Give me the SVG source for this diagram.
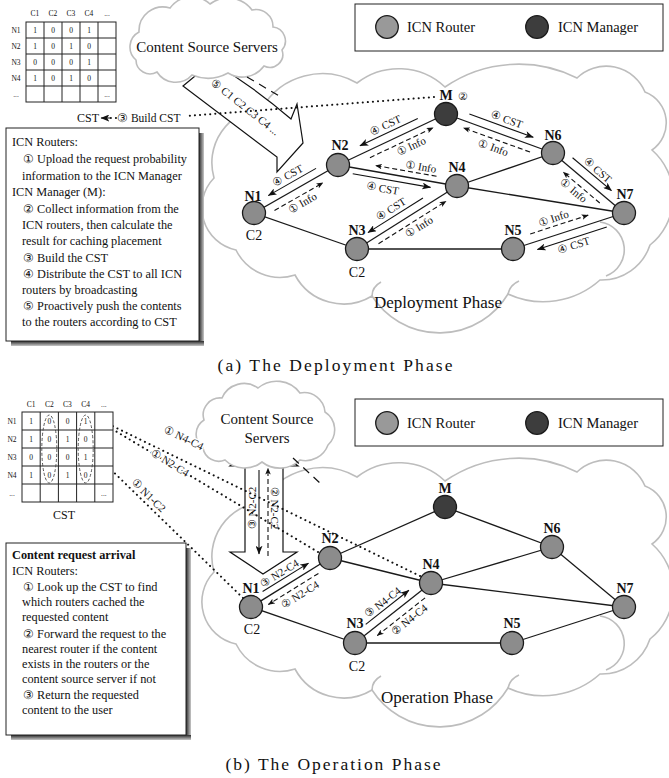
<svg xmlns="http://www.w3.org/2000/svg" width="669" height="778" viewBox="0 0 669 778" font-family="'Liberation Serif', Tinos, 'Times New Roman', 'DejaVu Serif', serif">
  <style>
    svg, text { font-family: 'Liberation Serif', Tinos, 'Times New Roman', 'DejaVu Serif', serif; }
    text { fill: #111; }
    .cloud { fill: none; stroke: #bdbdbd; stroke-width: 1.6; }
    .cloudw { fill: #fff; stroke: #bdbdbd; stroke-width: 1.6; }
    .edge { stroke: #1a1a1a; stroke-width: 1.3; fill: none; }
    .router { fill: #8c8c8c; stroke: #1a1a1a; stroke-width: 1.3; }
    .manager { fill: #3d3d3d; stroke: #1a1a1a; stroke-width: 1.3; }
    .nl { font-size: 14px; font-weight: bold; text-anchor: middle; }
    .cl { font-size: 14px; text-anchor: middle; }
    .sol { stroke: #111; stroke-width: 1.1; fill: none; marker-end: url(#ah); }
    .dsh { stroke: #111; stroke-width: 1.1; fill: none; stroke-dasharray: 5 3; marker-end: url(#ahs); }
    .al { font-size: 11px; text-anchor: middle; }
    .dot { stroke: #111; stroke-width: 2; stroke-linecap: round; stroke-dasharray: 0.1 5; fill: none; }
    .dash { stroke: #111; stroke-width: 1.2; stroke-dasharray: 8 6; fill: none; }
    .tb { fill: #fff; stroke: #222; stroke-width: 1; }
    .tt { font-size: 7.5px; text-anchor: middle; }
    .bx { font-size: 12.3px; }
    .halo { paint-order: stroke; stroke: #fff; stroke-width: 3px; stroke-linejoin: round; }
    .hollow { fill: #fff; stroke: #111; stroke-width: 1.2; stroke-linejoin: miter; }
  </style>
  <defs>
    <marker id="ah" viewBox="0 0 10 8" refX="9.5" refY="4" markerWidth="9" markerHeight="7" markerUnits="userSpaceOnUse" orient="auto">
      <path d="M0,0 L10,4 L0,8 L2.5,4 z" fill="#111"/>
    </marker>
    <marker id="ahs" viewBox="0 0 10 8" refX="9.5" refY="4" markerWidth="7" markerHeight="5.5" markerUnits="userSpaceOnUse" orient="auto">
      <path d="M0,0 L10,4 L0,8 L2.5,4 z" fill="#111"/>
    </marker>
    <marker id="ahL" viewBox="0 0 10 8" refX="9.5" refY="4" markerWidth="12" markerHeight="9" markerUnits="userSpaceOnUse" orient="auto">
      <path d="M0,0 L10,4 L0,8 L2,4 z" fill="#111"/>
    </marker>
    <linearGradient id="shR" x1="0" y1="0" x2="1" y2="0">
      <stop offset="0" stop-color="#2a2a2a"/>
      <stop offset="1" stop-color="#c8c8c8"/>
    </linearGradient>
    <linearGradient id="shB" x1="0" y1="0" x2="0" y2="1">
      <stop offset="0" stop-color="#2a2a2a"/>
      <stop offset="1" stop-color="#c8c8c8"/>
    </linearGradient>
    <!-- large network cloud outline -->
    <g id="bigCloud">
      <path class="cloud" d="M 236,250 A 43 43 0 0 1 214,178 A 55 55 0 0 1 262,108 A 70 70 0 0 1 357,83 A 68 68 0 0 1 445,87 A 130 130 0 0 1 577,78 A 42 42 0 0 1 645,92 A 33 33 0 0 1 652,150 A 62 62 0 0 1 650,245 A 51 51 0 0 1 600,280 A 85 85 0 0 1 508,294 A 80 80 0 0 1 372,296 A 55 55 0 0 1 295,275 A 49 49 0 0 1 236,250 Z"/>
      <path class="cloud" d="M 600,222 A 28 28 0 0 1 606,276"/>
      <path class="cloud" d="M 372,296 Q 372,287 381,282"/>
      <path class="cloud" d="M 508,294 Q 510,285 519,281"/>
    </g>
  </defs>

  <!-- ===================== (a) Deployment phase ===================== -->
  <g id="deploy-cloud"><use href="#bigCloud"/></g>

  <!-- hollow push arrow from content servers -->
  <g id="push-arrow">
    <path class="hollow" d="M 212,62 Q 254,87 291,119 L 297,104 L 303,143 L 277,172 L 277,157 Q 228,120 183,86 Z"/>
    <text class="al" font-size="11.5" transform="translate(243,110) rotate(38.5)">⑤ C1 C2 C3 C4 ...</text>
  </g>

  <g id="servers-a">
    <path class="cloudw" d="M 136,60 A 17 17 0 0 1 139,32 A 24 24 0 0 1 170,8 A 27 27 0 0 1 210,4 A 30 30 0 0 1 252,10 A 17 17 0 0 1 273,27 A 14 14 0 0 1 282,50 A 13 13 0 0 1 264,66 A 27 27 0 0 1 228,73 A 42 42 0 0 1 192,75 A 22 22 0 0 1 157,72 A 14 14 0 0 1 136,60 Z"/>
    <text x="207" y="52" font-size="15" text-anchor="middle">Content Source Servers</text>
  </g>

  <g id="links-a">
    <line class="edge" x1="254" y1="213" x2="338" y2="165"/>
    <line class="edge" x1="254" y1="213" x2="357" y2="249"/>
    <line class="edge" x1="338" y1="165" x2="446" y2="114"/>
    <line class="edge" x1="338" y1="165" x2="457" y2="186"/>
    <line class="edge" x1="357" y1="249" x2="457" y2="186"/>
    <line class="edge" x1="357" y1="249" x2="513" y2="249"/>
    <line class="edge" x1="446" y1="114" x2="553" y2="153"/>
    <line class="edge" x1="457" y1="186" x2="553" y2="153"/>
    <line class="edge" x1="457" y1="186" x2="624" y2="213"/>
    <line class="edge" x1="553" y1="153" x2="624" y2="213"/>
    <line class="edge" x1="513" y1="249" x2="624" y2="213"/>
    <!-- dashed link between clouds, dotted CST build path -->
    <line class="dash" x1="247" y1="77" x2="281" y2="97"/>
    <line class="dot" x1="434" y1="97" x2="186" y2="116"/>
    <line class="dot" x1="116" y1="118" x2="108" y2="118"/>
    <line x1="110" y1="118" x2="101" y2="118" stroke="#111" stroke-width="1" marker-end="url(#ah)"/>
  </g>

  <g id="flows-a">
    <g transform="translate(254,213) rotate(-29.74)">
      <line class="sol" x1="76" y1="-8" x2="21" y2="-8"/>
      <text class="al" x="48" y="-12">④ CST</text>
      <line class="dsh" x1="19" y1="8" x2="75" y2="8"/>
      <text class="al" x="47" y="19">① Info</text>
    </g>
    <g transform="translate(338,165) rotate(-25.28)">
      <line class="sol" x1="92" y1="-8" x2="28" y2="-8"/>
      <text class="al" x="60" y="-12">④ CST</text>
      <line class="dsh" x1="32" y1="7" x2="102" y2="7"/>
      <text class="al" x="74" y="18">① Info</text>
    </g>
    <g transform="translate(338,165) rotate(10)">
      <line class="dsh" x1="99" y1="-6" x2="37" y2="-6"/>
      <text class="al" x="82" y="-9">① Info</text>
      <line class="sol" x1="16" y1="6" x2="95" y2="6"/>
      <text class="al" x="48" y="19">④ CST</text>
    </g>
    <g transform="translate(357,249) rotate(-32.21)">
      <line class="sol" x1="83" y1="-8" x2="18" y2="-8"/>
      <text class="al" x="50" y="-12">④ CST</text>
      <line class="dsh" x1="21" y1="7" x2="101" y2="7"/>
      <text class="al" x="64" y="18">① Info</text>
    </g>
    <g transform="translate(446,114) rotate(20.03)">
      <line class="sol" x1="22" y1="-8" x2="90" y2="-8"/>
      <text class="al" x="59" y="-12">④ CST</text>
      <line class="dsh" x1="92" y1="7" x2="21" y2="7"/>
      <text class="al" x="56" y="19">① Info</text>
    </g>
    <g transform="translate(553,153) rotate(40.2)">
      <line class="sol" x1="18" y1="-9" x2="69" y2="-9"/>
      <text class="al" x="45" y="-12">④ CST</text>
      <line class="dsh" x1="68" y1="8" x2="20" y2="8"/>
      <text class="al" x="40" y="19">① Info</text>
    </g>
    <g transform="translate(513,249) rotate(-17.97)">
      <line class="dsh" x1="21" y1="-9" x2="82" y2="-9"/>
      <text class="al" x="48" y="-13">① Info</text>
      <line class="sol" x1="96" y1="8" x2="23" y2="8"/>
      <text class="al" x="59" y="19">④ CST</text>
    </g>
  </g>

  <g id="a-N1"><circle class="router" cx="254" cy="213" r="11.5"/><text class="nl" x="253" y="201">N1</text><text class="cl" x="254" y="240">C2</text></g>
  <g id="a-N2"><circle class="router" cx="338" cy="165" r="11.5"/><text class="nl" x="340" y="150">N2</text></g>
  <g id="a-N3"><circle class="router" cx="357" cy="249" r="11.5"/><text class="nl" x="357" y="235">N3</text><text class="cl" x="357" y="277">C2</text></g>
  <g id="a-N4"><circle class="router" cx="457" cy="186" r="11.5"/><text class="nl" x="457" y="172">N4</text></g>
  <g id="a-N5"><circle class="router" cx="513" cy="249" r="11.5"/><text class="nl" x="513" y="235">N5</text></g>
  <g id="a-N6"><circle class="router" cx="553" cy="153" r="11.5"/><text class="nl" x="553" y="140">N6</text></g>
  <g id="a-N7"><circle class="router" cx="624" cy="213" r="11.5"/><text class="nl" x="625" y="199">N7</text></g>
  <g id="a-M"><circle class="manager" cx="446" cy="114" r="11.5"/><text class="nl" x="446" y="100">M</text><text x="463" y="100" font-size="11" text-anchor="middle">②</text></g>

  <text x="438" y="308" font-size="17" text-anchor="middle">Deployment Phase</text>

  <g id="legend-a">
    <rect x="355" y="4" width="308" height="47" fill="#fff" stroke="#222" stroke-width="1"/>
    <circle cx="387" cy="27" r="11.3" fill="#999" stroke="#1a1a1a" stroke-width="1.3"/>
    <text x="407" y="32" font-size="14.5">ICN Router</text>
    <circle cx="537" cy="27" r="11.3" class="manager"/>
    <text x="558" y="32" font-size="14.5">ICN Manager</text>
  </g>

  <g id="cst-a">
    <g stroke="#222" stroke-width="1">
      <rect x="26" y="22" width="90" height="80" fill="#fff"/>
      <line x1="44" y1="22" x2="44" y2="102"/><line x1="62" y1="22" x2="62" y2="102"/>
      <line x1="80" y1="22" x2="80" y2="102"/><line x1="98" y1="22" x2="98" y2="102"/>
      <line x1="26" y1="38" x2="116" y2="38"/><line x1="26" y1="54" x2="116" y2="54"/>
      <line x1="26" y1="70" x2="116" y2="70"/><line x1="26" y1="86" x2="116" y2="86"/>
    </g>
    <g>
      <text class="tt" x="35" y="16">C1</text><text class="tt" x="53" y="16">C2</text><text class="tt" x="71" y="16">C3</text><text class="tt" x="89" y="16">C4</text><text class="tt" x="107" y="16">...</text>
      <text class="tt" x="16" y="32.5">N1</text><text class="tt" x="16" y="48.5">N2</text><text class="tt" x="16" y="64.5">N3</text><text class="tt" x="16" y="80.5">N4</text><text class="tt" x="16" y="96.5">...</text>
      <text class="tt" x="35" y="32.5">1</text><text class="tt" x="53" y="32.5">0</text><text class="tt" x="71" y="32.5">0</text><text class="tt" x="89" y="32.5">1</text>
      <text class="tt" x="35" y="48.5">1</text><text class="tt" x="53" y="48.5">0</text><text class="tt" x="71" y="48.5">1</text><text class="tt" x="89" y="48.5">0</text>
      <text class="tt" x="35" y="64.5">0</text><text class="tt" x="53" y="64.5">0</text><text class="tt" x="71" y="64.5">0</text><text class="tt" x="89" y="64.5">1</text>
      <text class="tt" x="35" y="80.5">1</text><text class="tt" x="53" y="80.5">0</text><text class="tt" x="71" y="80.5">1</text><text class="tt" x="89" y="80.5">0</text>
      <text class="tt" x="107" y="96.5">...</text>
    </g>
    <text x="88" y="122" font-size="12" text-anchor="middle">CST</text>
    <text x="117" y="122" font-size="11.5">③ Build CST</text>
  </g>

  <g id="steps-a">
    <rect x="199" y="133" width="5" height="213" fill="url(#shR)"/>
    <rect x="11" y="341" width="193" height="5" fill="url(#shB)"/>
    <rect class="tb" x="6" y="128" width="193" height="213"/>
    <g>
      <text class="bx" x="12" y="146">ICN Routers:</text>
      <text class="bx" x="23" y="163">① Upload the request probability</text>
      <text class="bx" x="22" y="180">information to the ICN Manager</text>
      <text class="bx" x="12" y="196">ICN Manager (M):</text>
      <text class="bx" x="23" y="213">② Collect information from the</text>
      <text class="bx" x="22" y="229">ICN routers, then calculate the</text>
      <text class="bx" x="22" y="245">result for caching placement</text>
      <text class="bx" x="23" y="262">③ Build the CST</text>
      <text class="bx" x="23" y="278">④ Distribute the CST to all ICN</text>
      <text class="bx" x="22" y="294">routers by broadcasting</text>
      <text class="bx" x="23" y="310">⑤ Proactively push the contents</text>
      <text class="bx" x="22" y="326">to the routers according to CST</text>
    </g>
  </g>

  <text x="335" y="371" font-size="17.5" text-anchor="middle" textLength="235" lengthAdjust="spacing">(a) The Deployment Phase</text>

  <!-- ===================== (b) Operation phase ===================== -->
  <g id="oper-cloud"><use href="#bigCloud" y="394"/></g>

  <g id="fetch-arrow">
    <path class="hollow" d="M 264,440 L 230,466 L 245,466 L 245,552 L 230,552 L 263,574 L 297,552 L 283,552 L 283,466 L 298,466 Z"/>
    <line class="sol" x1="259" y1="470" x2="259" y2="554"/>
    <line class="dsh" x1="268" y1="556" x2="268" y2="468"/>
    <text class="al" transform="translate(256,508) rotate(-90)">③ N2-C2</text>
    <text class="al" transform="translate(271,508) rotate(90)">② N2-C2</text>
  </g>

  <g id="servers-b">
    <path class="cloudw" d="M 203,448 A 17 17 0 0 1 204,420 A 17 17 0 0 1 222,398 A 24 24 0 0 1 258,388 A 29 29 0 0 1 300,393 A 21 21 0 0 1 325,412 A 21 21 0 0 1 328,445 A 24 24 0 0 1 300,460 A 29 29 0 0 1 262,462 A 28 28 0 0 1 225,460 A 16 16 0 0 1 203,448 Z"/>
    <text x="267" y="424" font-size="15" text-anchor="middle">Content Source</text>
    <text x="267" y="443" font-size="15" text-anchor="middle">Servers</text>
  </g>

  <g id="links-b">
    <line class="edge" x1="251" y1="607" x2="330" y2="558"/>
    <line class="edge" x1="251" y1="607" x2="355" y2="643"/>
    <line class="edge" x1="330" y1="558" x2="445" y2="507"/>
    <line class="edge" x1="330" y1="558" x2="431" y2="583"/>
    <line class="edge" x1="355" y1="643" x2="431" y2="583"/>
    <line class="edge" x1="355" y1="643" x2="512" y2="643"/>
    <line class="edge" x1="445" y1="507" x2="552" y2="547"/>
    <line class="edge" x1="431" y1="583" x2="552" y2="547"/>
    <line class="edge" x1="431" y1="583" x2="624" y2="607"/>
    <line class="edge" x1="552" y1="547" x2="624" y2="607"/>
    <line class="edge" x1="512" y1="643" x2="624" y2="607"/>
    <line class="dash" x1="293" y1="458" x2="321" y2="484"/>
  </g>

  <g id="lookups-b">
    <line class="dot" x1="420" y1="576" x2="96" y2="418"/>
    <line class="dot" x1="318" y1="552" x2="97" y2="420"/>
    <line class="dot" x1="243" y1="598" x2="61" y2="421"/>
    <line x1="97" y1="419.5" x2="91" y2="416.5" stroke="#111" marker-end="url(#ahL)"/>
    <line x1="62" y1="422" x2="57" y2="417" stroke="#111" marker-end="url(#ahL)"/>
    <text class="al halo" transform="translate(182,441) rotate(26)">① N4-C4</text>
    <text class="al halo" transform="translate(168,466) rotate(31)">① N2-C4</text>
    <text class="al halo" transform="translate(146,498) rotate(44)">① N1-C2</text>
  </g>

  <g id="flows-b">
    <g transform="translate(251,607) rotate(-31.8)">
      <line class="sol" x1="18" y1="-7" x2="72" y2="-7"/>
      <text class="al" x="42" y="-10">③ N2-C4</text>
      <line class="dsh" x1="75" y1="7" x2="16" y2="7"/>
      <text class="al" x="48" y="19">② N2-C4</text>
    </g>
    <g transform="translate(355,643) rotate(-38.3)">
      <line class="sol" x1="20" y1="-8" x2="75" y2="-8"/>
      <text class="al" x="47" y="-11">③ N4-C4</text>
      <line class="dsh" x1="83" y1="8" x2="22" y2="8"/>
      <text class="al" x="57" y="19">② N4-C4</text>
    </g>
  </g>

  <g id="b-N1"><circle class="router" cx="251" cy="607" r="11.5"/><text class="nl" x="251" y="593">N1</text><text class="cl" x="252" y="634">C2</text></g>
  <g id="b-N2"><circle class="router" cx="330" cy="558" r="11.5"/><text class="nl" x="330" y="543">N2</text></g>
  <g id="b-N3"><circle class="router" cx="355" cy="643" r="11.5"/><text class="nl" x="355" y="628">N3</text><text class="cl" x="357" y="671">C2</text></g>
  <g id="b-N4"><circle class="router" cx="431" cy="583" r="11.5"/><text class="nl" x="431" y="569">N4</text></g>
  <g id="b-N5"><circle class="router" cx="512" cy="643" r="11.5"/><text class="nl" x="512" y="628">N5</text></g>
  <g id="b-N6"><circle class="router" cx="552" cy="547" r="11.5"/><text class="nl" x="552" y="533">N6</text></g>
  <g id="b-N7"><circle class="router" cx="624" cy="607" r="11.5"/><text class="nl" x="625" y="593">N7</text></g>
  <g id="b-M"><circle class="manager" cx="445" cy="507" r="11.5"/><text class="nl" x="445" y="493">M</text></g>

  <text x="437" y="703" font-size="17" text-anchor="middle">Operation Phase</text>

  <g id="legend-b">
    <rect x="355" y="399" width="308" height="47" fill="#fff" stroke="#222" stroke-width="1"/>
    <circle cx="387" cy="423" r="11.3" fill="#999" stroke="#1a1a1a" stroke-width="1.3"/>
    <text x="407" y="428" font-size="14.5">ICN Router</text>
    <circle cx="537" cy="423" r="11.3" class="manager"/>
    <text x="558" y="428" font-size="14.5">ICN Manager</text>
  </g>

  <g id="cst-b">
    <g stroke="#222" stroke-width="1">
      <rect x="22" y="412" width="91" height="90" fill="#fff"/>
      <line x1="40.2" y1="412" x2="40.2" y2="502"/><line x1="58.4" y1="412" x2="58.4" y2="502"/>
      <line x1="76.6" y1="412" x2="76.6" y2="502"/><line x1="94.8" y1="412" x2="94.8" y2="502"/>
      <line x1="22" y1="430" x2="113" y2="430"/><line x1="22" y1="448" x2="113" y2="448"/>
      <line x1="22" y1="466" x2="113" y2="466"/><line x1="22" y1="484" x2="113" y2="484"/>
    </g>
    <ellipse cx="49.3" cy="449" rx="7.5" ry="34" fill="none" stroke="#444" stroke-width="0.9" stroke-dasharray="3 2"/>
    <ellipse cx="85.7" cy="449" rx="7.5" ry="34" fill="none" stroke="#444" stroke-width="0.9" stroke-dasharray="3 2"/>
    <g>
      <text class="tt" x="31.1" y="407">C1</text><text class="tt" x="49.3" y="407">C2</text><text class="tt" x="67.5" y="407">C3</text><text class="tt" x="85.7" y="407">C4</text><text class="tt" x="103.9" y="407">...</text>
      <text class="tt" x="12" y="423.5">N1</text><text class="tt" x="12" y="441.5">N2</text><text class="tt" x="12" y="459.5">N3</text><text class="tt" x="12" y="477.5">N4</text><text class="tt" x="12" y="495.5">...</text>
      <text class="tt" x="31.1" y="423.5">1</text><text class="tt" x="49.3" y="423.5">0</text><text class="tt" x="67.5" y="423.5">0</text><text class="tt" x="85.7" y="423.5">1</text>
      <text class="tt" x="31.1" y="441.5">1</text><text class="tt" x="49.3" y="441.5">0</text><text class="tt" x="67.5" y="441.5">1</text><text class="tt" x="85.7" y="441.5">0</text>
      <text class="tt" x="31.1" y="459.5">0</text><text class="tt" x="49.3" y="459.5">0</text><text class="tt" x="67.5" y="459.5">0</text><text class="tt" x="85.7" y="459.5">1</text>
      <text class="tt" x="31.1" y="477.5">1</text><text class="tt" x="49.3" y="477.5">0</text><text class="tt" x="67.5" y="477.5">1</text><text class="tt" x="85.7" y="477.5">0</text>
      <text class="tt" x="103.9" y="495.5">...</text>
    </g>
    <text x="64" y="519" font-size="12" text-anchor="middle">CST</text>
  </g>

  <g id="steps-b">
    <rect x="186" y="548" width="5" height="192" fill="url(#shR)"/>
    <rect x="11" y="735" width="180" height="5" fill="url(#shB)"/>
    <rect class="tb" x="6" y="543" width="180" height="192"/>
    <text class="bx" x="12" y="559" font-weight="bold">Content request arrival</text>
    <text class="bx" x="12" y="575">ICN Routers:</text>
    <text class="bx" x="23" y="591">① Look up the CST to find</text>
    <text class="bx" x="22" y="606">which routers cached the</text>
    <text class="bx" x="22" y="621">requested content</text>
    <text class="bx" x="23" y="638">② Forward the request to the</text>
    <text class="bx" x="22" y="653">nearest router if the content</text>
    <text class="bx" x="22" y="668">exists in the routers or the</text>
    <text class="bx" x="22" y="683">content source server if not</text>
    <text class="bx" x="23" y="699">③ Return the requested</text>
    <text class="bx" x="22" y="714">content to the user</text>
  </g>

  <text x="333" y="770" font-size="17.5" text-anchor="middle" textLength="215" lengthAdjust="spacing">(b) The Operation Phase</text>
</svg>
